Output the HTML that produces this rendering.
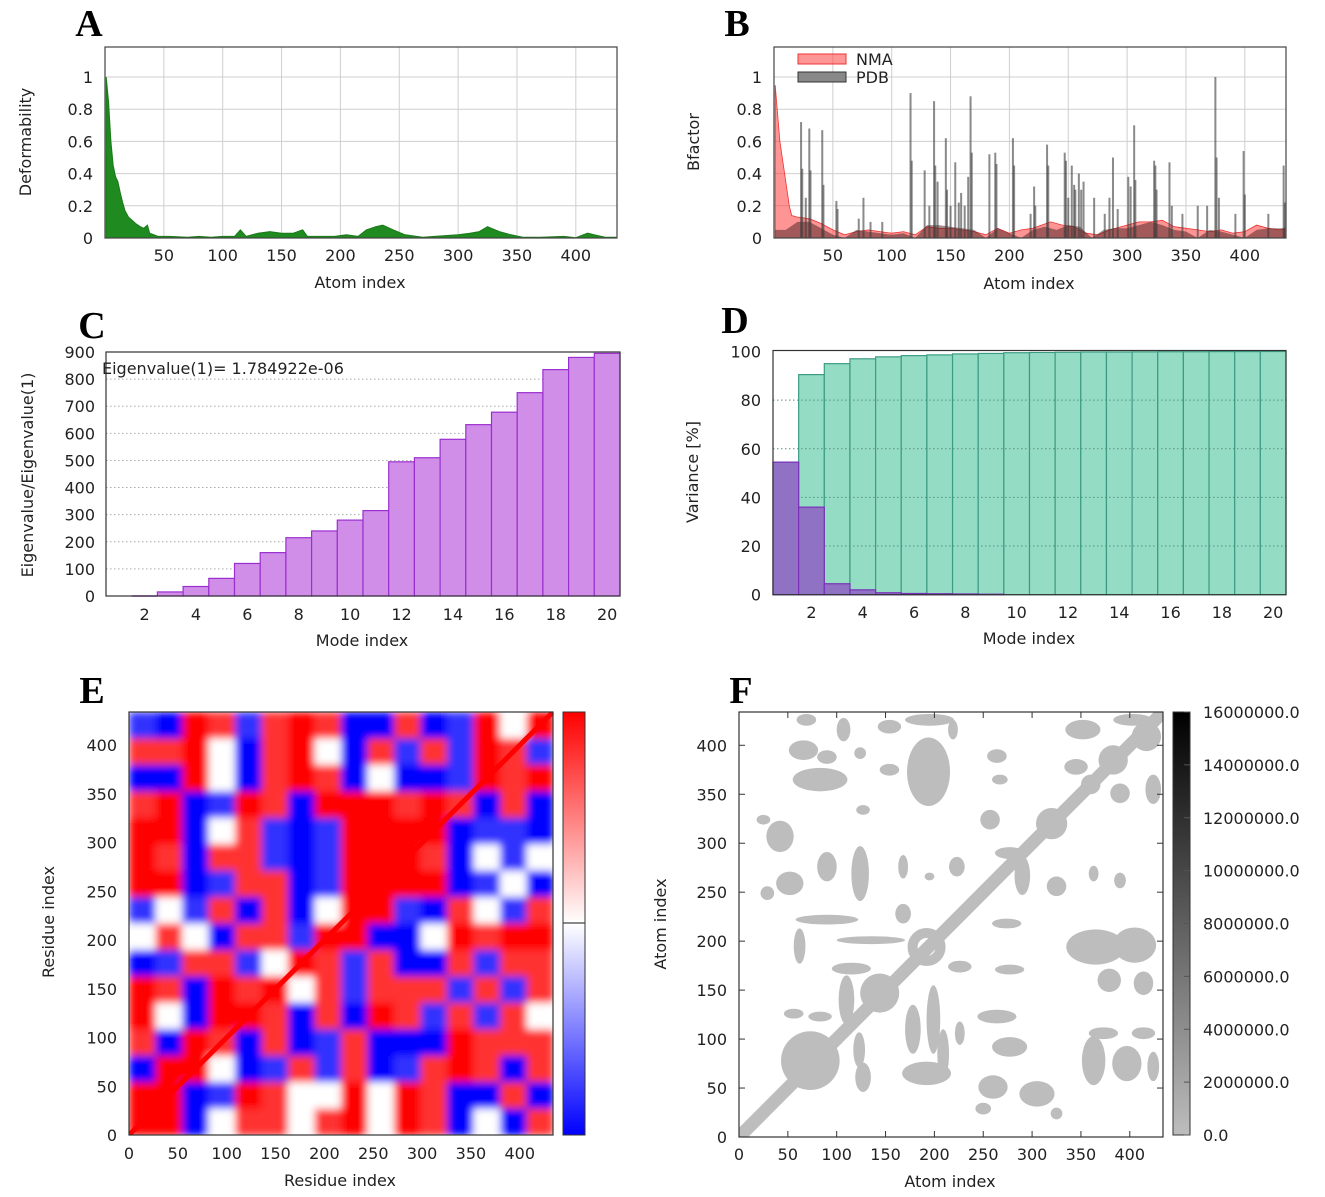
<!DOCTYPE html>
<html><head><meta charset="utf-8"><style>
html,body{margin:0;padding:0;background:#fff;}
svg{display:block;font-family:"DejaVu Sans","Liberation Sans",sans-serif;}
.t{font-size:16px;fill:#222;}
.L{font-family:"Liberation Serif",serif;font-weight:bold;font-size:38px;fill:#000;}
</style></head><body>
<svg id="fig" width="1325" height="1197" viewBox="0 0 1325 1197" xmlns="http://www.w3.org/2000/svg">
<defs>
<filter id="blurE" x="0" y="0" width="1" height="1"><feGaussianBlur stdDeviation="4" edgeMode="duplicate"/></filter>
<clipPath id="clipE"><rect x="129" y="712" width="424" height="423"/></clipPath>
<clipPath id="clipF"><rect x="739" y="712" width="424" height="425"/></clipPath>
<linearGradient id="gE" x1="0" y1="0" x2="0" y2="1"><stop offset="0" stop-color="#ff0000"/><stop offset="0.5" stop-color="#ffffff"/><stop offset="1" stop-color="#0000ff"/></linearGradient>
<linearGradient id="gF" x1="0" y1="0" x2="0" y2="1"><stop offset="0" stop-color="#000"/><stop offset="1" stop-color="#bdbdbd"/></linearGradient>
</defs>
<g id="root"></g>
</svg>
<script>
// ---------- DATA ----------
const defAtoms=[1,3,5,7,9,11,13,15,17,20,23,26,30,33,36,38,45,55,70,80,90,100,110,115,120,130,140,150,160,168,172,185,195,205,215,222,230,236,245,255,270,280,300,310,318,325,335,345,355,370,390,400,410,416,425,434];
const defValues=[1.0,0.85,0.6,0.45,0.38,0.35,0.28,0.22,0.17,0.13,0.11,0.09,0.07,0.06,0.08,0.03,0.01,0.01,0.005,0.01,0.005,0.01,0.01,0.05,0.01,0.03,0.04,0.03,0.03,0.05,0.01,0.01,0.01,0.02,0.01,0.05,0.07,0.08,0.05,0.02,0.005,0.01,0.02,0.03,0.04,0.07,0.04,0.02,0.005,0.005,0.01,0.002,0.03,0.02,0.005,0.005];
const nmaAtoms=[1,5,10,13,15,20,30,40,50,60,70,80,90,100,110,120,130,140,150,160,170,180,190,200,210,220,235,245,255,265,275,285,300,310,320,330,340,350,360,370,380,390,400,410,420,430,434];
const nmaValues=[0.95,0.6,0.35,0.2,0.14,0.13,0.12,0.09,0.05,0.02,0.04,0.05,0.04,0.03,0.04,0.02,0.07,0.06,0.06,0.05,0.04,0.02,0.06,0.03,0.05,0.06,0.1,0.08,0.07,0.03,0.02,0.05,0.08,0.1,0.1,0.11,0.07,0.06,0.05,0.04,0.05,0.03,0.04,0.08,0.06,0.05,0.06];
const pdbAtoms=[23,24,27,30,31,41,42,53,54,72,76,82,92,116,117,128,132,136,137,139,146,147,150,154,157,159,162,165,167,168,183,188,189,203,204,218,221,222,232,233,247,248,250,253,255,256,259,261,263,272,281,285,288,292,301,303,306,307,323,324,325,336,338,347,360,368,375,376,378,392,399,400,420,433,434];
const pdbValues=[0.72,0.43,0.25,0.68,0.42,0.67,0.33,0.23,0.18,0.12,0.25,0.1,0.1,0.9,0.48,0.42,0.2,0.85,0.45,0.35,0.62,0.3,0.2,0.47,0.22,0.28,0.2,0.38,0.88,0.53,0.52,0.53,0.46,0.62,0.45,0.15,0.32,0.2,0.58,0.45,0.53,0.48,0.25,0.45,0.33,0.3,0.4,0.3,0.35,0.25,0.15,0.25,0.5,0.18,0.38,0.32,0.7,0.36,0.48,0.45,0.3,0.47,0.2,0.15,0.2,0.2,1.0,0.5,0.25,0.15,0.54,0.27,0.15,0.45,0.22];
const pdbBaseAtoms=[1,10,20,30,40,50,60,70,80,90,100,110,120,130,140,150,160,170,180,190,200,210,220,230,240,250,260,270,280,290,300,310,320,330,340,350,360,370,380,390,400,410,420,434];
const pdbBaseValues=[0.05,0.05,0.1,0.1,0.06,0.02,0.0,0.05,0.04,0.03,0.02,0.03,0.0,0.08,0.08,0.07,0.06,0.05,0.0,0.06,0.03,0.0,0.05,0.07,0.05,0.08,0.07,0.0,0.05,0.06,0.06,0.08,0.1,0.08,0.05,0.04,0.0,0.05,0.04,0.02,0.0,0.05,0.06,0.06];
const modes=[1,2,3,4,5,6,7,8,9,10,11,12,13,14,15,16,17,18,19,20];
const eigRatio=[0,0,15,35,65,120,160,215,240,280,315,495,510,578,632,678,750,835,880,895];
const varCumulative=[54.5,90.5,95,97,97.8,98.3,98.6,99,99.2,99.5,99.6,99.7,99.8,99.8,99.85,99.9,99.9,99.95,99.95,100];
const varIndividual=[54.5,36,4.5,2,0.8,0.5,0.4,0.3,0.2,0,0,0,0,0,0,0,0,0,0,0];
const corrRows=["bBRrbrRrBBrBbRwR","rrRwBrRwBrbrbRrb","BBRwBrRrBwBBbRrR","rRBbRrBRRRrRrBrB","RRBwrbBbRRRRBbbB","RrBrrbBbRRRrBwbw","RRBbrrBbRRRRBbwB","bwbrBrBwRRbBrwbr","wrwBrrbRRBBwRrRR","BbrrbwRrbrBBrbrr","RrBRrRwrbrrrbrbr","RwBRRrBrBRrbrbrw","rBRrBrBbrBBBRrrr","BRRwBbrbrBbrRrBr","RRBbRrwwRwRrBBrB","RRBwrrwrRwRrBwBr"];
const corrLevels={R:1,r:0.8,w:0,b:-0.8,B:-1};
const contactBlobs=[[73,78,30,30],[127,61,8,15],[123,89,6,18],[192,65,25,12],[199,120,7,35],[178,110,8,25],[209,85,6,25],[226,106,5,12],[260,51,15,12],[305,44,18,13],[250,29,8,6],[325,24,6,6],[277,92,18,10],[264,123,20,7],[363,78,12,25],[397,75,15,18],[424,72,6,15],[414,106,12,6],[373,106,15,6],[379,160,12,12],[414,157,10,12],[365,194,30,18],[405,196,22,18],[277,171,15,5],[274,218,15,5],[325,256,10,10],[363,269,5,8],[390,262,6,8],[226,174,12,6],[83,365,28,12],[66,395,15,10],[90,388,10,7],[69,426,10,6],[107,416,7,12],[124,392,6,6],[25,324,7,5],[42,307,14,16],[29,249,7,7],[52,259,14,12],[90,276,10,15],[124,269,9,28],[168,276,5,12],[195,266,5,4],[223,276,8,10],[168,228,8,10],[127,334,7,5],[154,419,12,7],[154,375,10,6],[195,426,25,6],[194,373,22,35],[264,389,10,7],[267,365,8,5],[257,324,10,10],[219,416,5,10],[352,416,18,10],[383,385,15,15],[417,409,15,15],[424,355,8,15],[390,351,10,10],[345,378,12,8],[403,426,20,6],[90,222,32,5],[135,201,35,4],[62,195,6,18],[144,147,20,20],[110,140,8,25],[83,123,12,5],[56,126,10,5],[115,172,20,6],[290,267,8,20],[277,290,15,6],[320,320,16,16],[360,360,10,10]];
const contactRing=[192,194,14];
const atomTicks=[50,100,150,200,250,300,350,400];
const fracTicks=[0,0.2,0.4,0.6,0.8,1];
const fracTickLabels=["0","0.2","0.4","0.6","0.8","1"];
const eigTicks=[0,100,200,300,400,500,600,700,800,900];
const varTicks=[0,20,40,60,80,100];
const modeTicks=[2,4,6,8,10,12,14,16,18,20];
const indexTicks=[0,50,100,150,200,250,300,350,400];
const cbTicks=[0,2000000,4000000,6000000,8000000,10000000,12000000,14000000,16000000];

// ---------- HELPERS ----------
const NS="http://www.w3.org/2000/svg";
const root=document.getElementById('root');
function mk(tag,attrs,parent,txt){const e=document.createElementNS(NS,tag);for(const k in attrs)e.setAttribute(k,attrs[k]);if(txt!==undefined)e.textContent=txt;(parent||root).appendChild(e);return e;}
function group(name){const g=mk('g',{});


return g;}
function label(g,x,y,s,anchor,name,cls,rot){const t=mk('text',{x:x,y:y,'text-anchor':anchor||'middle','class':cls||'t'},g,s);if(rot)t.setAttribute('transform','rotate(-90 '+x+' '+y+')');


return t;}

// ---------- PANEL A ----------
(function(){
const g=group('panel-a-deformability');
const xA=v=>105+v*512/435, yA=v=>238-v*161;
label(g,89,36,'A','middle','panel-label-a','L');
mk('rect',{x:105,y:47,width:512,height:191,fill:'#fff'},g);
atomTicks.forEach(v=>{mk('line',{x1:xA(v),x2:xA(v),y1:47,y2:238,stroke:'#cfcfcf','stroke-width':1},g);label(g,xA(v),261,String(v),'middle','x-tick-label');});
fracTicks.forEach((v,i)=>{mk('line',{x1:105,x2:617,y1:yA(v),y2:yA(v),stroke:'#cfcfcf','stroke-width':1},g);label(g,93,yA(v)+6,fracTickLabels[i],'end','y-tick-label');});
let d='M'+xA(defAtoms[0])+','+yA(0);
defAtoms.forEach((a,i)=>{d+=' L'+xA(a).toFixed(1)+','+yA(defValues[i]).toFixed(1);});
d+=' L'+xA(defAtoms[defAtoms.length-1])+','+yA(0)+' Z';
const p=mk('path',{d:d,fill:'#1f8a1f',stroke:'#1a7a1a','stroke-width':1},g);


mk('rect',{x:105,y:47,width:512,height:191,fill:'none',stroke:'#444','stroke-width':1.2},g);
label(g,360,288,'Atom index','middle','x-axis-title');
label(g,31,142,'Deformability','middle','y-axis-title','t',true);
})();

// ---------- PANEL B ----------
(function(){
const g=group('panel-b-bfactor');
const xB=v=>774+v*512/435, yB=v=>238-v*161;
label(g,737,36,'B','middle','panel-label-b','L');
atomTicks.forEach(v=>{mk('line',{x1:xB(v),x2:xB(v),y1:47,y2:238,stroke:'#cfcfcf','stroke-width':1},g);label(g,xB(v),261,String(v),'middle','x-tick-label');});
fracTicks.forEach((v,i)=>{mk('line',{x1:774,x2:1286,y1:yB(v),y2:yB(v),stroke:'#cfcfcf','stroke-width':1},g);label(g,762,yB(v)+6,fracTickLabels[i],'end','y-tick-label');});
let d='M'+xB(nmaAtoms[0])+','+yB(0);
nmaAtoms.forEach((a,i)=>{d+=' L'+xB(a).toFixed(1)+','+yB(nmaValues[i]).toFixed(1);});
d+=' L'+xB(nmaAtoms[nmaAtoms.length-1])+','+yB(0)+' Z';
const p=mk('path',{d:d,fill:'rgba(255,60,60,0.55)',stroke:'#e33','stroke-width':0.8},g);


let d2='M'+xB(pdbBaseAtoms[0])+','+yB(0);
pdbBaseAtoms.forEach((a,i)=>{d2+=' L'+xB(a).toFixed(1)+','+yB(pdbBaseValues[i]).toFixed(1);});
d2+=' L'+xB(434)+','+yB(0)+' Z';
const p2=mk('path',{d:d2,fill:'rgba(70,30,30,0.5)',stroke:'none'},g);


pdbAtoms.forEach((a,i)=>{const r=mk('rect',{x:xB(a)-1,y:yB(pdbValues[i]),width:2,height:yB(0)-yB(pdbValues[i]),fill:'rgba(60,60,60,0.6)'},g);

});
mk('rect',{x:774,y:47,width:512,height:191,fill:'none',stroke:'#444','stroke-width':1.2},g);
const l1=mk('rect',{x:798,y:54,width:48,height:10,fill:'rgba(255,80,80,0.6)',stroke:'#e33'},g);


label(g,856,65,'NMA','start','legend-label-nma');
const l2=mk('rect',{x:798,y:72,width:48,height:10,fill:'#888',stroke:'#333'},g);


label(g,856,83,'PDB','start','legend-label-pdb');
label(g,1029,289,'Atom index','middle','x-axis-title');
label(g,699,142,'Bfactor','middle','y-axis-title','t',true);
})();

// ---------- PANEL C ----------
(function(){
const g=group('panel-c-eigenvalues');
const xC=m=>106+(m-0.5)*25.7, yC=v=>596-v*244/900;
label(g,92,338,'C','middle','panel-label-c','L');
eigTicks.forEach(v=>{if(v>0&&v<900)mk('line',{x1:106,x2:620,y1:yC(v),y2:yC(v),stroke:'#aaa','stroke-dasharray':'1.5,2.5'},g);label(g,95,yC(v)+6,String(v),'end','y-tick-label');});
modeTicks.forEach(v=>label(g,xC(v),620,String(v),'middle','x-tick-label'));
modes.forEach((m,i)=>{if(eigRatio[i]<=0)return;const r=mk('rect',{x:xC(m-0.5),y:yC(eigRatio[i]),width:25.7,height:yC(0)-yC(eigRatio[i]),fill:'#d18ee9',stroke:'#9a2fcf','stroke-width':1.2},g);

});
mk('line',{x1:xC(2.5),x2:xC(1.5),y1:596,y2:596,stroke:'#9a2fcf','stroke-width':1.5},g);
mk('rect',{x:106,y:352,width:514,height:244,fill:'none',stroke:'#333','stroke-width':1.2},g);
label(g,102,374,'Eigenvalue(1)= 1.784922e-06','start','eigenvalue-annotation');
label(g,362,646,'Mode index','middle','x-axis-title');
label(g,33,475,'Eigenvalue/Eigenvalue(1)','middle','y-axis-title','t',true);
})();

// ---------- PANEL D ----------
(function(){
const g=group('panel-d-variance');
const xD=m=>773+(m-0.5)*25.65, yD=v=>594.7-v*2.432;
label(g,735,333,'D','middle','panel-label-d','L');
varTicks.forEach(v=>label(g,761,yD(v)+6,String(v),'end','y-tick-label'));
modeTicks.forEach(v=>label(g,xD(v),618,String(v),'middle','x-tick-label'));
modes.forEach((m,i)=>{const r=mk('rect',{x:xD(m-0.5),y:yD(varCumulative[i]),width:25.65,height:yD(0)-yD(varCumulative[i]),fill:'#95dcc5',stroke:'#3b9c82','stroke-width':1.2},g);

});
varTicks.forEach(v=>{if(v>0&&v<100)mk('line',{x1:773,x2:1286,y1:yD(v),y2:yD(v),stroke:'#5a8f80','stroke-dasharray':'1.5,2.5','stroke-width':1},g);});
modes.forEach((m,i)=>{if(varIndividual[i]<=0)return;const r=mk('rect',{x:xD(m-0.5),y:yD(varIndividual[i]),width:25.65,height:yD(0)-yD(varIndividual[i]),fill:'#8f72c4',stroke:'#7a30b8','stroke-width':1.2},g);

});
mk('rect',{x:773,y:350.5,width:513,height:244.2,fill:'none',stroke:'#333','stroke-width':1.2},g);
label(g,1029,644,'Mode index','middle','x-axis-title');
label(g,698,472,'Variance [%]','middle','y-axis-title','t',true);
})();

// ---------- PANEL E ----------
(function(){
const g=group('panel-e-correlation-map');
const xE=v=>129+v*424/434, yE=v=>1135-v*423/434;
label(g,92,703,'E','middle','panel-label-e','L');
const outer=mk('g',{'clip-path':'url(#clipE)'},g);
const inner=mk('g',{filter:'url(#blurE)'},outer);
const n=corrRows.length, cell=434/n;
function col(v){if(v>=0){const c=Math.round(255*(1-v));return 'rgb(255,'+c+','+c+')';}const c=Math.round(255*(1+v));return 'rgb('+c+','+c+',255)';}
corrRows.forEach((row,ri)=>{const y0=434-(ri+1)*cell;
for(let ci=0;ci<row.length;ci++){const v=corrLevels[row[ci]];
const r=mk('rect',{x:xE(ci*cell),y:yE(y0+cell),width:xE(cell)-xE(0)+0.6,height:yE(0)-yE(cell)+0.6,fill:col(v)},inner);

}});
const diag=mk('line',{x1:xE(0),y1:yE(0),x2:xE(434),y2:yE(434),stroke:'#ff0000','stroke-width':5},outer);


mk('rect',{x:129,y:712,width:424,height:423,fill:'none',stroke:'#333','stroke-width':1.2},g);
indexTicks.forEach(v=>{label(g,xE(v),1159,String(v),'middle','x-tick-label');label(g,117,yE(v)+6,String(v),'end','y-tick-label');});
const cb=mk('rect',{x:563,y:712,width:22,height:423,fill:'url(#gE)',stroke:'#333','stroke-width':1},g);


mk('line',{x1:563,x2:585,y1:923,y2:923,stroke:'#444','stroke-width':1.2},g);
label(g,340,1186,'Residue index','middle','x-axis-title');
label(g,54,922,'Residue index','middle','y-axis-title','t',true);
})();

// ---------- PANEL F ----------
(function(){
const g=group('panel-f-contact-map');
const xF=v=>739+v*424/434, yF=v=>1137-v*425/434;
label(g,741,703,'F','middle','panel-label-f','L');
const clip=mk('g',{'clip-path':'url(#clipF)'},g);
const diag=mk('line',{x1:xF(0),y1:yF(0),x2:xF(434),y2:yF(434),stroke:'#bdbdbd','stroke-width':13},clip);


contactBlobs.forEach(b=>{const e=mk('ellipse',{cx:xF(b[0]),cy:yF(b[1]),rx:b[2]*424/434,ry:b[3]*425/434,fill:'#bdbdbd'},clip);

});
const ring=mk('circle',{cx:xF(contactRing[0]),cy:yF(contactRing[1]),r:contactRing[2],fill:'none',stroke:'#bdbdbd','stroke-width':10},clip);


mk('rect',{x:739,y:712,width:424,height:425,fill:'none',stroke:'#333','stroke-width':1.2},g);
indexTicks.forEach(v=>{mk('line',{x1:xF(v),x2:xF(v),y1:1137,y2:1131,stroke:'#333'},g);mk('line',{x1:xF(v),x2:xF(v),y1:712,y2:718,stroke:'#333'},g);
mk('line',{x1:739,x2:745,y1:yF(v),y2:yF(v),stroke:'#333'},g);mk('line',{x1:1163,x2:1157,y1:yF(v),y2:yF(v),stroke:'#333'},g);
label(g,xF(v),1160,String(v),'middle','x-tick-label');label(g,727,yF(v)+6,String(v),'end','y-tick-label');});
const cb=mk('rect',{x:1173,y:712,width:17,height:423,fill:'url(#gF)',stroke:'#333','stroke-width':1},g);


cbTicks.forEach(v=>{const y=1135-v/16000000*423;mk('line',{x1:1184,x2:1190,y1:y,y2:y,stroke:'#555'},g);label(g,1203,y+6,v.toFixed(1),'start','colorbar-tick-label');});
label(g,950,1187,'Atom index','middle','x-axis-title');
label(g,666,924,'Atom index','middle','y-axis-title','t',true);
})();
</script>
</body></html>
